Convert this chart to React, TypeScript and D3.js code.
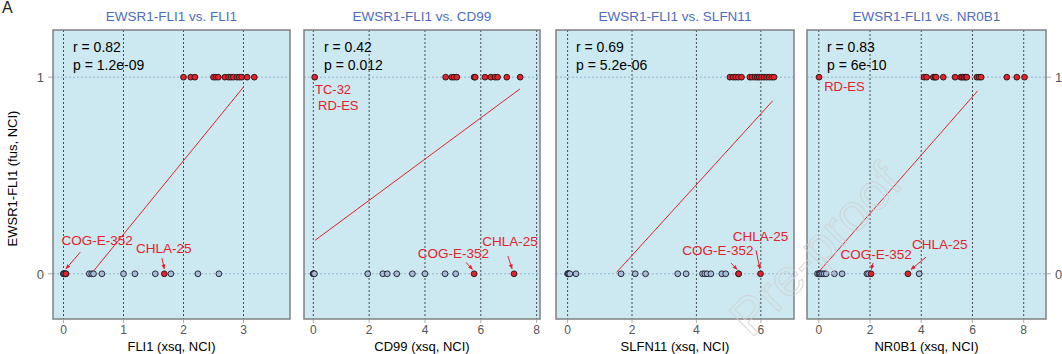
import React from "react";
import * as d3 from "d3";

// ---------- data ----------
const panelTitles = ["EWSR1-FLI1 vs. FLI1", "EWSR1-FLI1 vs. CD99", "EWSR1-FLI1 vs. SLFN11", "EWSR1-FLI1 vs. NR0B1"];
const xTitles = ["FLI1 (xsq, NCI)", "CD99 (xsq, NCI)", "SLFN11 (xsq, NCI)", "NR0B1 (xsq, NCI)"];
const rValues = ["0.82", "0.42", "0.69", "0.83"];
const pValues = ["1.2e-09", "0.012", "5.2e-06", "6e-10"];
const xDomains = [[-0.175, 3.775], [-0.333, 8.12], [-0.36, 7.03], [-0.46, 8.87]];
const xTicks = [[0, 1, 2, 3], [0, 2, 4, 6, 8], [0, 2, 4, 6], [0, 2, 4, 6, 8]];
const yDomain = [-0.23, 1.24];
const yTicks = [0, 1];

// fusion-positive (y = 1) expression values
const pos1 = [2.0, 2.12, 2.19, 2.5, 2.54, 2.58, 2.69, 2.75, 2.79, 2.83, 2.89, 2.93, 2.97, 3.06, 3.18];
const pos2 = [0.05, 4.74, 4.96, 5.04, 5.14, 5.76, 5.8, 6.15, 6.36, 6.51, 6.6, 6.93, 7.41];
const pos3 = [5.04, 5.14, 5.22, 5.3, 5.4, 5.66, 5.73, 5.82, 5.89, 5.95, 6.02, 6.1, 6.18, 6.26, 6.34, 6.41];
const pos4 = [0.01, 4.11, 4.21, 4.47, 4.54, 4.58, 4.86, 5.32, 5.54, 5.61, 5.67, 5.74, 5.78, 6.17, 6.26, 6.34, 7.34, 7.73, 8.03];
// fusion-negative (y = 0) expression values
const neg1 = [0, 0, 0.01, 0.02, 0.04, 0.43, 0.47, 0.5, 0.64, 1.0, 1.19, 1.53, 1.79, 2.24, 2.59];
const neg2 = [0, 0, 0.02, 0.04, 1.95, 2.49, 2.65, 2.99, 3.55, 4.0, 4.72, 5.1];
const neg3 = [0, 0.02, 0.04, 0.07, 0.26, 1.66, 2.1, 2.42, 3.42, 3.68, 4.19, 4.26, 4.33, 4.45, 4.79, 4.91, 5.31];
const neg4 = [-0.05, 0.01, 0.04, 0.08, 0.14, 0.21, 0.29, 0.61, 0.91, 1.88, 1.94, 3.92];
// highlighted fusion-negative lines (COG-E-352, CHLA-25)
const highlight1 = [0.04, 1.68];
const highlight2 = [5.76, 7.19];
const highlight3 = [5.31, 5.99];
const highlight4 = [2.04, 3.48];
// regression line endpoints [x0, y0, x1, y1]
const fitLines = [[0.49, 0.01, 3.0, 0.95], [0.06, 0.17, 7.4, 0.94], [1.52, 0.007, 6.37, 0.88], [0.0, 0.01, 6.2, 0.93]];

// labels: text, anchor x, baseline y, text-anchor, arrow (x0,y0)->(x1,y1) or null
type Lab = { t: string; x: number; y: number; a: string; arrow: number[] | null };
const labels1: Lab[] = [
  { t: "COG-E-352", x: 0.56, y: 0.146, a: "middle", arrow: [0.28, 0.11, 0.04, 0.025] },
  { t: "CHLA-25", x: 1.67, y: 0.106, a: "middle", arrow: [1.64, 0.08, 1.68, 0.025] },
];
const labels2: Lab[] = [
  { t: "TC-32", x: 0.06, y: 0.912, a: "start", arrow: null },
  { t: "RD-ES", x: 0.17, y: 0.833, a: "start", arrow: null },
  { t: "COG-E-352", x: 5.02, y: 0.08, a: "middle", arrow: [5.47, 0.058, 5.7, 0.022] },
  { t: "CHLA-25", x: 7.05, y: 0.14, a: "middle", arrow: [6.97, 0.09, 7.12, 0.025] },
];
const labels3: Lab[] = [
  { t: "CHLA-25", x: 5.99, y: 0.167, a: "middle", arrow: [5.85, 0.12, 5.97, 0.025] },
  { t: "COG-E-352", x: 4.67, y: 0.096, a: "middle", arrow: [5.07, 0.055, 5.26, 0.022] },
];
const labels4: Lab[] = [
  { t: "RD-ES", x: 0.21, y: 0.93, a: "start", arrow: null },
  { t: "CHLA-25", x: 4.72, y: 0.126, a: "middle", arrow: [4.19, 0.085, 3.6, 0.022] },
  { t: "COG-E-352", x: 2.24, y: 0.075, a: "middle", arrow: [2.12, 0.055, 2.05, 0.022] },
];

const positives = [pos1, pos2, pos3, pos4];
const negatives = [neg1, neg2, neg3, neg4];
const highlights = [highlight1, highlight2, highlight3, highlight4];
const labelSets = [labels1, labels2, labels3, labels4];

// ---------- layout ----------
const W = 1062, H = 354;
const panelX = [[53, 290], [304, 540], [556, 794], [807, 1046]];
const top = 30, bottom = 319;
const FONT = "'Liberation Sans', Arial, sans-serif";
const RED = "#e8202a";
const BG = "#cce9f1";
const TITLE_BLUE = "#4d6cbf";

function Panel({ i }: { i: number }) {
  const [x0, x1] = panelX[i];
  const x = d3.scaleLinear().domain(xDomains[i]).range([x0, x1]);
  const y = d3.scaleLinear().domain(yDomain).range([bottom, top]);
  const fl = fitLines[i];
  const r = 2.9;
  return (
    <g>
      <rect x={x0} y={top} width={x1 - x0} height={bottom - top} fill={BG} />
      {xTicks[i].map((t) => (
        <line key={"v" + t} x1={x(t)} x2={x(t)} y1={top} y2={bottom} stroke="#222" strokeWidth={0.8} strokeDasharray="2,2" />
      ))}
      {yTicks.map((t) => (
        <line key={"h" + t} x1={x0} x2={x1} y1={y(t)} y2={y(t)} stroke="#88a4c8" strokeWidth={0.8} strokeDasharray="2,2" />
      ))}
      <rect x={x0} y={top} width={x1 - x0} height={bottom - top} fill="none" stroke="#808080" strokeWidth={1.5} />
      <text x={(x0 + x1) / 2} y={21} textAnchor="middle" fontSize={13.5} fill={TITLE_BLUE} fontFamily={FONT}>{panelTitles[i]}</text>
      <text x={x0 + 20} y={52} fontSize={14} fill="#000" fontFamily={FONT}>{"r = " + rValues[i]}</text>
      <text x={x0 + 20} y={70} fontSize={14} fill="#000" fontFamily={FONT}>{"p = " + pValues[i]}</text>
      <line x1={x(fl[0])} y1={y(fl[1])} x2={x(fl[2])} y2={y(fl[3])} stroke={RED} strokeWidth={1} />
      {negatives[i].map((v, k) => (
        <circle key={"n" + k} cx={x(v)} cy={y(0)} r={r} fill="#a7bad6" stroke="#1a1a2a" strokeWidth={0.9} />
      ))}
      {highlights[i].map((v, k) => (
        <circle key={"hl" + k} cx={x(v)} cy={y(0)} r={r} fill={RED} stroke="#1a1a1a" strokeWidth={0.9} />
      ))}
      {positives[i].map((v, k) => (
        <circle key={"p" + k} cx={x(v)} cy={y(1)} r={r} fill={RED} stroke="#1a1a1a" strokeWidth={0.9} />
      ))}
      {labelSets[i].map((l, k) => (
        <g key={"l" + k}>
          <text x={x(l.x)} y={y(l.y)} textAnchor={l.a} fontSize={l.arrow ? 13.5 : 13} fill={RED} fontFamily={FONT}>{l.t}</text>
          {l.arrow && (
            <line x1={x(l.arrow[0])} y1={y(l.arrow[1])} x2={x(l.arrow[2])} y2={y(l.arrow[3])} stroke={RED} strokeWidth={1} markerEnd="url(#arr)" />
          )}
        </g>
      ))}
      {xTicks[i].map((t) => (
        <g key={"t" + t}>
          <line x1={x(t)} x2={x(t)} y1={bottom} y2={bottom + 4} stroke="#999" strokeWidth={0.8} />
          <text x={x(t)} y={334} textAnchor="middle" fontSize={12} fill="#555" fontFamily={FONT}>{t}</text>
        </g>
      ))}
      <text x={(x0 + x1) / 2} y={351} textAnchor="middle" fontSize={13} fill="#000" fontFamily={FONT}>{xTitles[i]}</text>
    </g>
  );
}

export default function App() {
  const y = d3.scaleLinear().domain(yDomain).range([bottom, top]);
  const leftX = panelX[0][0];
  const rightX = panelX[3][1];
  return (
    <svg width={W} height={H} style={{ position: "absolute", left: 0, top: 0, background: "#fff" }}>
      <defs>
        <marker id="arr" viewBox="0 0 10 10" refX="9" refY="5" markerWidth="5" markerHeight="5" orient="auto">
          <path d="M0,1 L10,5 L0,9 z" fill={RED} />
        </marker>
      </defs>
      <rect width={W} height={H} fill="#fff" />
      <text x={2} y={13} fontSize={16} fill="#222" fontFamily={FONT}>A</text>
      {[0, 1, 2, 3].map((i) => <Panel key={i} i={i} />)}
      {yTicks.map((t) => (
        <g key={"yl" + t}>
          <line x1={leftX - 5} x2={leftX} y1={y(t)} y2={y(t)} stroke="#999" strokeWidth={0.8} />
          <text x={leftX - 9} y={y(t) + 5} textAnchor="end" fontSize={13} fill="#555" fontFamily={FONT}>{t}</text>
          <line x1={rightX} x2={rightX + 5} y1={y(t)} y2={y(t)} stroke="#999" strokeWidth={0.8} />
          <text x={rightX + 9} y={y(t) + 5} textAnchor="start" fontSize={13} fill="#555" fontFamily={FONT}>{t}</text>
        </g>
      ))}
      <text transform={`translate(17,${(top + bottom) / 2 + 4}) rotate(-90)`} textAnchor="middle" fontSize={13} fill="#000" fontFamily={FONT}>EWSR1-FLI1 (fus, NCI)</text>
      <text transform="translate(828,262) rotate(-45)" textAnchor="middle" fontSize={52} fill="none" stroke="#d0d0d0" strokeWidth={1} opacity={0.8} fontFamily={FONT}>Pre-proof</text>
    </svg>
  );
}
